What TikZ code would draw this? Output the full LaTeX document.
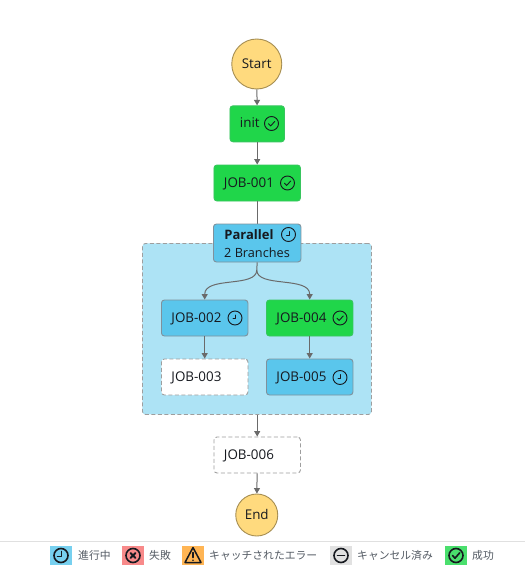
\documentclass[tikz,border=0pt]{standalone}
\usepackage{fontspec}
\setmainfont{Open Sans}
\newfontfamily\cjk{Noto Sans CJK JP}
\usetikzlibrary{arrows.meta}
\definecolor{okgreen}{HTML}{20D64A}
\definecolor{runblue}{HTML}{5AC6EC}
\definecolor{groupblue}{HTML}{ADE3F5}
\definecolor{startyellow}{HTML}{FFDA7E}
\definecolor{edgegrey}{HTML}{6A6A6A}
\definecolor{boxline}{HTML}{7F919C}
\definecolor{ink}{HTML}{16191F}
\definecolor{legtext}{HTML}{545B64}
\definecolor{legblue}{HTML}{77D0EF}
\definecolor{legred}{HTML}{F88A8A}
\definecolor{legorange}{HTML}{FFB554}
\definecolor{leggrey}{HTML}{E1E1E1}
\definecolor{leggreen}{HTML}{4ADF6D}
\tikzset{
  x=1pt,y=-1pt,
  every node/.style={font=\fontsize{13.4}{15}\selectfont,text=ink},
  terminal/.style={circle,draw=black!35!startyellow,fill=startyellow,line width=.9pt,inner sep=0pt,text height=10pt,text depth=2pt},
  boxw/.style={minimum width=#1,text width=#1-20pt},
  jobbox/.style={rectangle,rounded corners=3pt,draw=boxline,line width=.9pt,minimum height=36pt,inner xsep=10pt,inner ysep=0pt,anchor=west,align=left,text height=10pt,text depth=2pt},
  donebox/.style={jobbox,fill=okgreen,draw=okgreen!75!boxline},
  runbox/.style={jobbox,fill=runblue},
  waitbox/.style={jobbox,fill=white,draw=black!38,dash pattern=on 4pt off 2.5pt},
  groupbox/.style={rectangle,rounded corners=3pt,fill=groupblue,draw=black!38,line width=.9pt,dash pattern=on 4pt off 2.5pt,inner sep=0pt,anchor=north west},
  conn/.style={draw=edgegrey,line width=1pt,-{Triangle[width=6pt,length=5.5pt]}},
  connplain/.style={draw=edgegrey,line width=1pt},
  iconline/.style={draw=ink,line width=.9pt,line cap=round,line join=round},
  legicon/.style={draw=ink,line width=1.6pt,line cap=round,line join=round},
  legtxt/.style={anchor=west,inner sep=0pt,text=legtext,font=\cjk\fontsize{10.8}{13}\selectfont},
  swatch/.style={rectangle,draw=none,inner sep=0pt,minimum width=22pt,minimum height=19pt},
}
\newcommand{\clockicon}[2]{\draw[iconline] (#1,#2) circle (7);\draw[iconline] (#1+.6,#2-3) -- (#1+.6,#2+.8) -- (#1-2,#2+.8);}
\newcommand{\checkicon}[2]{\draw[iconline] (#1,#2) circle (7);\draw[iconline] (#1-3,#2+.2) -- (#1-.8,#2+2.4) -- (#1+3.2,#2-2);}
\begin{document}
\begin{tikzpicture}
\useasboundingbox (0,0) rectangle (525,573);
\fill[white] (0,0) rectangle (525,573);

% group
\node[groupbox,minimum width=229pt,minimum height=171pt] (grp) at (142,243) {};

% terminals
\node[terminal,minimum size=50pt] (start) at (256.75,64) {Start};
\node[terminal,minimum size=42pt] (end) at (256.75,515) {End};

% jobs
\node[donebox,boxw=54.5pt] (init) at (229.5,123.8) {init};
\node[donebox,boxw=86.5pt] (j1) at (213.5,183) {JOB-001};
\draw[connplain] (j1.south) -- +(0,24) coordinate (parTop);
\node[runbox,minimum width=87.5pt,minimum height=38pt] (par) at (213,243) {};
\node[anchor=center,font=\fontsize{13}{15}\selectfont] (partitle) at (249,234.5) {\textbf{Parallel}};
\node[anchor=center,font=\fontsize{12.7}{15}\selectfont] (parsub) at (257,253) {2 Branches};
\node[runbox,boxw=86.5pt] (j2) at (161,318) {JOB-002};
\node[donebox,boxw=86.5pt] (j4) at (266,318) {JOB-004};
\node[waitbox,boxw=86.5pt] (j3) at (161,377) {JOB-003};
\node[runbox,boxw=86.5pt] (j5) at (266,377) {JOB-005};
\node[waitbox,boxw=86.5pt] (j6) at (213.5,455) {JOB-006};

\coordinate (fork) at (256.75,270);
\draw[conn] (start) -- (init);
\draw[conn] (init) -- (j1);
\draw[connplain] (par.south) -- (fork);
\draw[conn] (fork) .. controls (256.75,288) and (j2.north |- 0,276) .. (j2.north);
\draw[conn] (fork) .. controls (256.75,288) and (j4.north |- 0,276) .. (j4.north);
\draw[conn] (j2) -- (j3);
\draw[conn] (j4) -- (j5);
\draw[conn] (grp.south -| j6.north) -- (j6.north);
\draw[conn] (j6) -- (end);

% status icons
\checkicon{271.5}{123.5}
\checkicon{287.5}{183}
\clockicon{288.5}{234.5}
\clockicon{235}{318}
\checkicon{340}{318}
\clockicon{340}{377.5}

% legend
\coordinate (ruleL) at (0,541.5);
\coordinate (ruleR) at (525,541.5);
\draw[black!12,line width=.8pt] (ruleL) -- (ruleR);

\node[swatch,fill=legblue] (s1) at (61,555.5) {};
\draw[legicon] (s1) circle (7);
\draw[legicon] (61.5,551.5) -- (61.5,556.5) -- (57.5,556.5);
\node[legtxt] (t1) at (78,555.5) {進行中};

\node[swatch,fill=legred] (s2) at (133,555.5) {};
\draw[legicon] (s2) circle (7);
\draw[legicon,line width=1.9pt] (130.5,553) -- (135.5,558) (135.5,553) -- (130.5,558);
\node[legtxt] (t2) at (149,555.5) {失敗};

\node[swatch,fill=legorange] (s3) at (193,555.5) {};
\draw[legicon,line width=1.5pt] (193,547.5) -- (201,562.5) -- (185,562.5) -- cycle;
\draw[legicon,line width=1.5pt] (193,552.5) -- (193,557.5);
\fill[ink] (193,560.3) circle (.9);
\node[legtxt] (t3) at (209,555.5) {キャッチされたエラー};

\node[swatch,fill=leggrey] (s4) at (341,555.5) {};
\draw[legicon] (s4) circle (7);
\draw[legicon] (337.5,555.5) -- (344.5,555.5);
\node[legtxt] (t4) at (357,555.5) {キャンセル済み};

\node[swatch,fill=leggreen] (s5) at (456,555.5) {};
\draw[legicon] (s5) circle (7);
\draw[legicon] (452.5,555.5) -- (455,558.2) -- (459.7,552.8);
\node[legtxt] (t5) at (472,555.5) {成功};
\end{tikzpicture}
\end{document}
